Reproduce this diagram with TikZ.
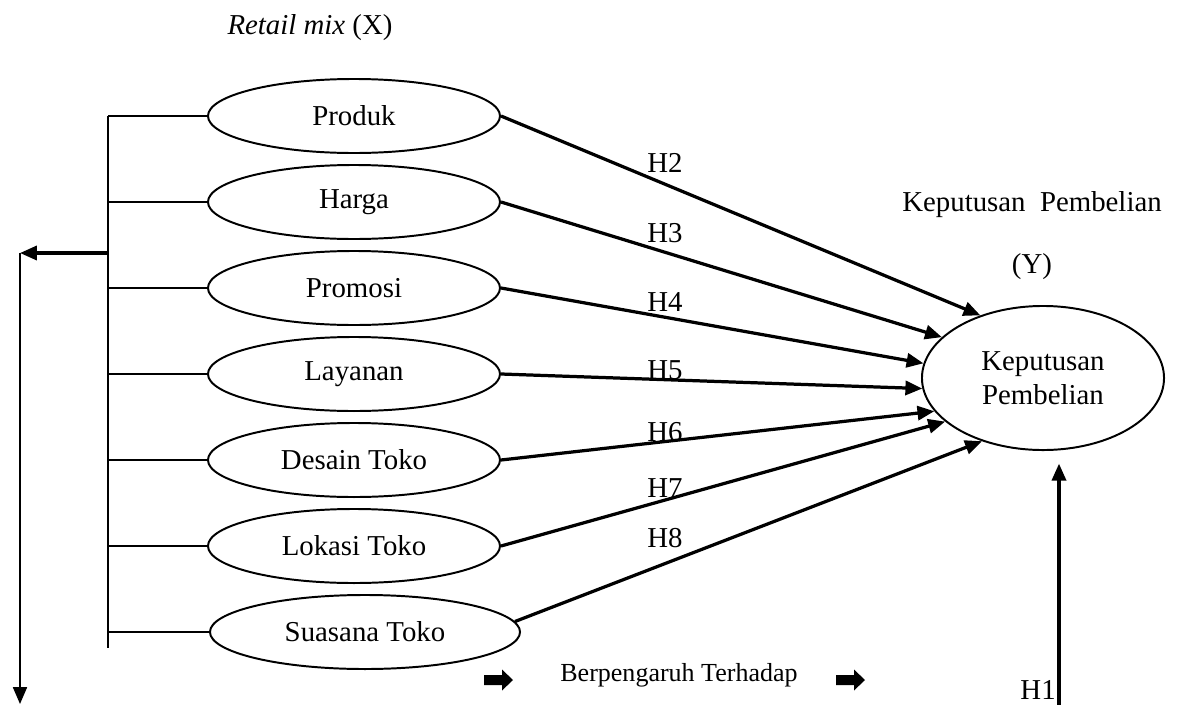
\documentclass[tikz,border=0pt]{standalone}
\usepackage{fontspec}
\setmainfont{Liberation Serif}
\usetikzlibrary{arrows.meta,shapes.geometric}

\tikzset{
    varx/.style={draw, ellipse, line width=1.4pt, minimum width=7.3cm,
        minimum height=1.85cm, inner sep=0pt},
    panah/.style={->, line width=2.3pt}
}

% the thick black block arrow of the legend
\newcommand{\blokpanah}[1]{%
    \fill[shift={(#1)}] (-14,-5) -- (4,-5) -- (4,-10.5) -- (15,0)
        -- (4,10.5) -- (4,5) -- (-14,5) -- cycle;}

\begin{document}
\begin{tikzpicture}[x=0.025cm, y=-0.025cm, >={Triangle[length=12pt,width=10pt]},
    font=\fontsize{20.5}{24}\selectfont]
    \useasboundingbox (0,0) rectangle (1186,705);

    % The title above the variables -> X
    \node (judulx) at (310,28) {\textit{Retail mix} (X)};

    % the ellipses of the variables X
    \foreach \nama/\teks/\y in {produk/Produk/116, harga/Harga/202,
        promosi/Promosi/288, layanan/Layanan/374, desain/Desain Toko/460,
        lokasi/Lokasi Toko/546}
    \node[varx] (\nama) at (354,\y) {\teks};
    \node[varx, minimum width=7.75cm] (suasana) at (365,632) {Suasana Toko};

    % the bracket on the left of the variables
    \coordinate (brkatas) at (108,116);
    \coordinate (brkbawah) at (108,648);
    \draw[line width=1.1pt] (brkatas) -- (brkbawah);
    \foreach \nama in {produk,harga,promosi,layanan,desain,lokasi,suasana}
    \draw[line width=1.1pt] (\nama.west -| brkatas) -- (\nama.west);

    % Arrow from the bracket to the left, then down
    \coordinate (brkpanah) at (108,253);
    \coordinate (sudutkiri) at (20,253);
    \coordinate (bawahkiri) at (20,704);
    \draw[panah] (brkpanah) -- (sudutkiri);
    \draw[->, line width=1.1pt] (sudutkiri) -- (bawahkiri);

    % The ellipse of Y with its title
    \node[draw, ellipse, line width=1.4pt, minimum width=6.05cm,
        minimum height=3.6cm, align=center, inner sep=0pt] (kp) at (1043,378)
        {Keputusan\\Pembelian};
    \node (judulkp) at (1032,205) {Keputusan\ \ Pembelian};
    \node (juduly) at (1032,267) {(Y)};

    % Arrow lines from X to Y with the labels H2 ... H8
    \foreach \nama/\sudut/\h/\ly in {produk/135/H2/163, harga/158/H3/233,
        promosi/173/H4/302, layanan/185/H5/370, desain/197/H6/432,
        lokasi/204/H7/488}
    {
        \draw[panah] (\nama.east) -- (kp.\sudut);
        \node (lbl\h) at (665,\ly) {\h};
    }
    \draw[panah] (suasana.4) -- (kp.226);
    \node (lblH8) at (665,538) {H8};

    % Arrow line from below to Y -> H1
    \coordinate (h1bawah) at (1059,705);
    \draw[panah, shorten >=9pt] (h1bawah) -- (kp.south -| h1bawah);
    \node[anchor=east, inner sep=0pt] (lblH1) at (1056,690) {H1};

    % The legend at the bottom
    \coordinate (blok1) at (498,680);
    \coordinate (blok2) at (850,680);
    \blokpanah{blok1}
    \node[font=\fontsize{18.5}{22}\selectfont] (legenda) at (679,675)
        {Berpengaruh Terhadap};
    \blokpanah{blok2}
\end{tikzpicture}
\end{document}
